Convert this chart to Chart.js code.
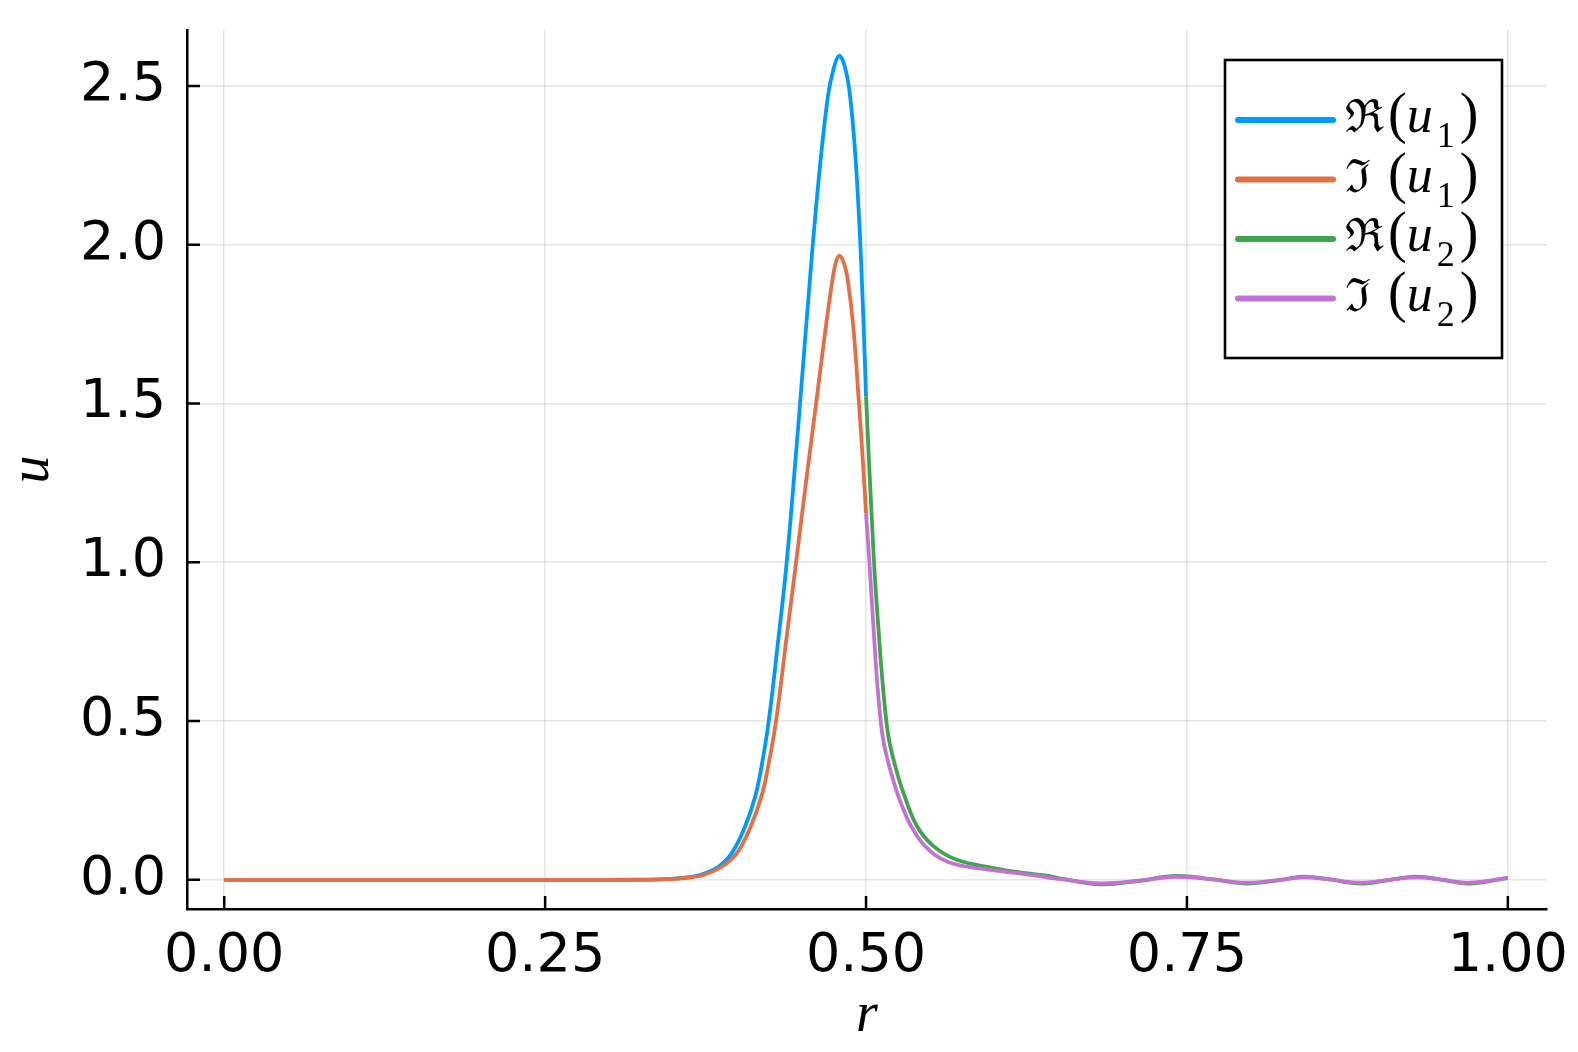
<!DOCTYPE html>
<html>
<head>
<meta charset="utf-8">
<script src="https://cdn.jsdelivr.net/npm/chart.js@4/dist/chart.umd.min.js"></script>
<style>
  html, body { margin: 0; padding: 0; background: #ffffff; }
  #wrap { width: 1578px; height: 1052px; }
</style>
</head>
<body>
<div id="wrap"><canvas id="c" width="1578" height="1052"></canvas></div>
<script>
// ---- ticks ----
const xTicks = [0, 0.25, 0.5, 0.75, 1.0];
const xTickLabels = ['0.00', '0.25', '0.50', '0.75', '1.00'];
const yTicks = [0, 0.5, 1.0, 1.5, 2.0, 2.5];
const yTickLabels = ['0.0', '0.5', '1.0', '1.5', '2.0', '2.5'];
const xTitle = 'r';
const yTitle = 'u';

// ---- series ----
const seriesLabels = ['ℜ(u₁)', 'ℑ(u₁)', 'ℜ(u₂)', 'ℑ(u₂)'];
const seriesColors = ['#009AFA', '#E36F47', '#3EA44E', '#C371D2'];

// Re(u1) on [0, 0.5]
const rRe1 = [0, 0.1, 0.2, 0.3, 0.34, 0.355, 0.3706, 0.3849, 0.3953, 0.4057, 0.4135, 0.4187, 0.4242, 0.4309, 0.4382, 0.446, 0.4486, 0.4579, 0.4642, 0.4704, 0.4745, 0.479, 0.4835, 0.4875, 0.4915, 0.495, 0.4978, 0.5];
const re1  = [0, 0, 0, 0, 0.001, 0.005, 0.015, 0.041, 0.083, 0.167, 0.26, 0.36, 0.5, 0.73, 1.0, 1.37, 1.5, 1.97, 2.25, 2.47, 2.55, 2.595, 2.56, 2.47, 2.29, 2.05, 1.78, 1.522];

// Im(u1) on [0, 0.5]
const rIm1 = [0, 0.1, 0.2, 0.3, 0.34, 0.355, 0.3732, 0.3875, 0.3992, 0.4101, 0.4187, 0.4239, 0.4299, 0.4377, 0.4455, 0.4538, 0.4611, 0.468, 0.4733, 0.4762, 0.479, 0.4825, 0.4857, 0.4901, 0.4945, 0.4975, 0.5];
const im1  = [0, 0, 0, 0, 0.001, 0.004, 0.015, 0.041, 0.083, 0.167, 0.265, 0.36, 0.5, 0.75, 1.0, 1.27, 1.5, 1.72, 1.875, 1.94, 1.965, 1.945, 1.89, 1.74, 1.5, 1.32, 1.154];

// Re(u2) on [0.5, 1]
const rRe2 = [0.5, 0.5062, 0.5104, 0.5125, 0.515, 0.5175, 0.521, 0.525, 0.529, 0.5395, 0.5525, 0.5707, 0.5992, 0.624, 0.6408, 0.6534, 0.6827, 0.712, 0.7413, 0.7705, 0.797, 0.8232, 0.841, 0.8614, 0.8848, 0.9082, 0.9288, 0.9493, 0.9698, 1.0];
const re2  = [1.522, 1.0, 0.75, 0.64, 0.53, 0.45, 0.385, 0.325, 0.275, 0.17, 0.106, 0.063, 0.037, 0.021, 0.013, 0.003, -0.014, -0.004, 0.012, 0.001, -0.012, 0.0, 0.010, 0.001, -0.012, 0.0, 0.010, 0.0, -0.012, 0.006];

// Im(u2) on [0.5, 1]
const rIm2 = [0.5, 0.5026, 0.5065, 0.5085, 0.5109, 0.513, 0.516, 0.52, 0.5244, 0.5278, 0.5343, 0.546, 0.5635, 0.5914, 0.624, 0.6534, 0.6827, 0.712, 0.7413, 0.7705, 0.797, 0.8232, 0.841, 0.8614, 0.8848, 0.9082, 0.9288, 0.9493, 0.9698, 1.0];
const im2  = [1.154, 1.0, 0.75, 0.63, 0.52, 0.45, 0.39, 0.33, 0.272, 0.235, 0.175, 0.106, 0.057, 0.034, 0.018, 0.001, -0.011, -0.003, 0.0095, 0.001, -0.0094, 0.0, 0.0074, 0.001, -0.0094, 0.0, 0.0074, 0.0, -0.0094, 0.005];

const xs = [rRe1, rIm1, rRe2, rIm2];
const ys = [re1, im1, re2, im2];
const drawOrder = [3, 2, 1, 0]; // later series drawn on top

const datasets = seriesLabels.map((lab, i) => ({
  label: lab,
  data: xs[i].map((x, k) => ({ x: x, y: ys[i][k] })),
  borderColor: seriesColors[i],
  backgroundColor: seriesColors[i],
  borderWidth: 3.8,
  pointRadius: 0,
  pointHoverRadius: 0,
  fill: false,
  tension: 0.4,
  borderCapStyle: 'butt',
  borderJoinStyle: 'round',
  order: drawOrder[i]
}));

// inward tick marks (Plots.jl style)
const innerTicks = {
  id: 'innerTicks',
  beforeDatasetsDraw(chart) {
    const { ctx, chartArea: ca, scales } = chart;
    ctx.save();
    ctx.strokeStyle = '#000';
    ctx.lineWidth = 2.5;
    ctx.beginPath();
    scales.x.ticks.forEach(t => {
      const px = scales.x.getPixelForValue(t.value);
      ctx.moveTo(px, ca.bottom);
      ctx.lineTo(px, ca.bottom - 13);
    });
    scales.y.ticks.forEach(t => {
      const py = scales.y.getPixelForValue(t.value);
      ctx.moveTo(ca.left, py);
      ctx.lineTo(ca.left + 13, py);
    });
    ctx.stroke();
    ctx.restore();
  }
};

// legend label drawn as math: fraktur symbol, parentheses, italic variable, subscript
const subMap = { '₀': '0', '₁': '1', '₂': '2', '₃': '3' };
function drawMathLabel(ctx, text, x0, baseY) {
  let cx = x0;
  for (const ch of text) {
    let font, dy = 0, str = ch, gapAfter = 0;
    if (ch === 'ℜ' || ch === 'ℑ') {
      ctx.font = '46px "DejaVu Serif"';
      ctx.fillText(str, cx, baseY);
      cx = Math.max(cx + ctx.measureText(str).width, x0 + 43);
      continue;
    } else if (subMap[ch] !== undefined) {
      font = '36px "Liberation Serif"';
      str = subMap[ch];
      dy = 15;
      gapAfter = 5;
    } else if (/[a-z]/.test(ch)) {
      font = 'italic 52px "Liberation Serif"';
      gapAfter = 4;
    } else {
      font = '56px "Liberation Serif"';
    }
    ctx.font = font;
    ctx.fillText(str, cx, baseY + dy);
    cx += ctx.measureText(str).width + gapAfter;
  }
}

const plotsLegend = {
  id: 'plotsLegend',
  afterDraw(chart) {
    const { ctx, chartArea: ca } = chart;
    const w = 277, h = 298;
    const left = ca.right - 45 - w;
    const top = ca.top + 30;
    ctx.save();
    ctx.fillStyle = '#fff';
    ctx.fillRect(left, top, w, h);
    ctx.strokeStyle = '#000';
    ctx.lineWidth = 2.6;
    ctx.strokeRect(left, top, w, h);
    chart.data.datasets.forEach((ds, i) => {
      const ly = top + 60 + i * 59.5;
      ctx.strokeStyle = ds.borderColor;
      ctx.lineWidth = 6;
      ctx.lineCap = 'round';
      ctx.beginPath();
      ctx.moveTo(left + 13, ly);
      ctx.lineTo(left + 108, ly);
      ctx.stroke();
      ctx.fillStyle = '#000';
      ctx.textBaseline = 'alphabetic';
      ctx.textAlign = 'left';
      drawMathLabel(ctx, ds.label, left + 120, ly + 12);
    });
    ctx.restore();
  }
};

const tickFont = { family: '"DejaVu Sans"', size: 54 };
const titleFont = { family: '"Liberation Serif"', size: 56, style: 'italic' };
const gridColor = 'rgba(0,0,0,0.10)';

new Chart(document.getElementById('c'), {
  type: 'line',
  data: { datasets: datasets },
  options: {
    responsive: false,
    devicePixelRatio: 1,
    animation: false,
    events: [],
    layout: { padding: { left: 0, top: 30, right: 31, bottom: 0 } },
    plugins: { legend: { display: false }, tooltip: { enabled: false } },
    scales: {
      x: {
        type: 'linear',
        min: -0.029,
        max: 1.0305,
        afterBuildTicks: s => { s.ticks = xTicks.map(v => ({ value: v })); },
        afterFit: s => { s.height = 143; s.paddingLeft = 0; s.paddingRight = 0; },
        ticks: {
          autoSkip: false, maxRotation: 0, minRotation: 0,
          color: '#000', font: tickFont, padding: 16,
          callback: (v) => xTickLabels[xTicks.indexOf(v)]
        },
        grid: { color: gridColor, lineWidth: 1.5, drawTicks: false },
        border: { display: true, color: '#000', width: 2.5 },
        title: { display: true, text: xTitle, color: '#000', font: titleFont, padding: { top: 0, bottom: 2 } }
      },
      y: {
        type: 'linear',
        min: -0.092,
        max: 2.676,
        afterBuildTicks: s => { s.ticks = yTicks.map(v => ({ value: v })); },
        afterFit: s => { s.width = 187; s.paddingTop = 0; s.paddingBottom = 0; },
        ticks: {
          autoSkip: false,
          color: '#000', font: tickFont, padding: 21,
          callback: (v) => yTickLabels[yTicks.indexOf(v)]
        },
        grid: { color: gridColor, lineWidth: 1.5, drawTicks: false },
        border: { display: true, color: '#000', width: 2.5 },
        title: { display: true, text: yTitle, color: '#000', font: titleFont, padding: { top: 0, bottom: 0 } }
      }
    }
  },
  plugins: [innerTicks, plotsLegend]
});
</script>
</body>
</html>
